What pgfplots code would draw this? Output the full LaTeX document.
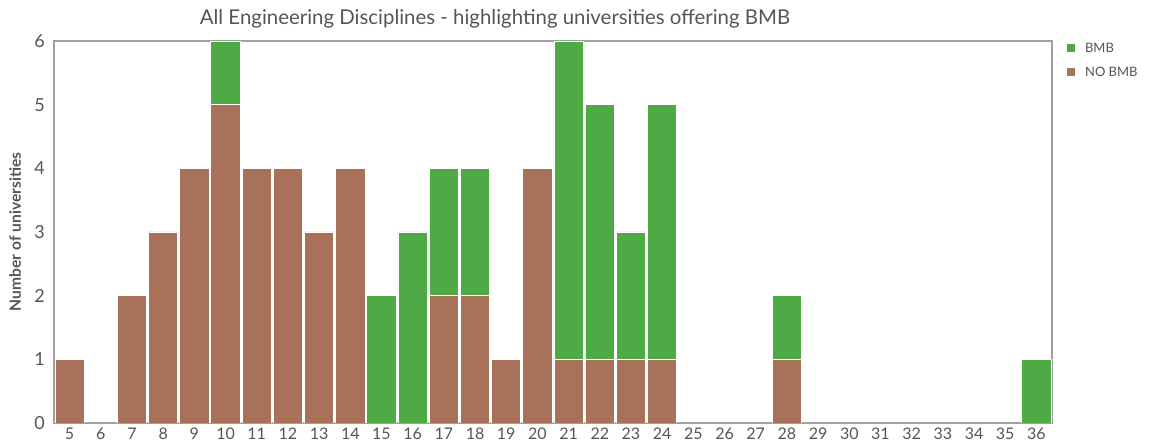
\documentclass[border=0pt]{standalone}
\usepackage{pgfplots}
\pgfplotsset{compat=1.18}
\usepackage{fontspec}
\setmainfont{Lato}
\definecolor{bmb}{HTML}{4DAA45}
\definecolor{nobmb}{HTML}{A8715A}
\definecolor{axisgray}{HTML}{A0A0A0}
\definecolor{txtgray}{HTML}{555555}
\begin{document}
\begin{tikzpicture}
\path[use as bounding box] (0,0) rectangle (576.5pt,224pt);
\begin{axis}[
  at={(27pt,12.5pt)}, anchor=south west,
  scale only axis, width=499pt, height=191pt,
  ybar stacked, bar width=0.94,
  xmin=4.5, xmax=36.5, ymin=0, ymax=6,
  xtick={5,...,36}, ytick={0,...,6},
  major tick length=0pt,
  axis line style={draw=axisgray, line width=0.6pt},
  xticklabel style={font=\fontsize{8}{9}\selectfont, text=txtgray, yshift=1pt},
  yticklabel style={font=\fontsize{9}{10}\selectfont, text=txtgray, xshift=-1pt},
  /pgf/number format/assume math mode=true,
  ylabel={\bfseries Number of universities},
  ylabel style={font=\fontsize{7.8}{9}\selectfont, text=txtgray, at={(-13pt,0.5)}},
]
\addplot[fill=nobmb, draw=white, line width=0.4pt] coordinates {
(5,1) (6,0) (7,2) (8,3) (9,4) (10,5) (11,4) (12,4) (13,3) (14,4)
(15,0) (16,0) (17,2) (18,2) (19,1) (20,4) (21,1) (22,1) (23,1) (24,1)
(25,0) (26,0) (27,0) (28,1) (29,0) (30,0) (31,0) (32,0) (33,0) (34,0) (35,0) (36,0)};
\addplot[fill=bmb, draw=white, line width=0.4pt] coordinates {
(5,0) (6,0) (7,0) (8,0) (9,0) (10,1) (11,0) (12,0) (13,0) (14,0)
(15,2) (16,3) (17,2) (18,2) (19,0) (20,0) (21,5) (22,4) (23,2) (24,4)
(25,0) (26,0) (27,0) (28,1) (29,0) (30,0) (31,0) (32,0) (33,0) (34,0) (35,0) (36,1)};
\end{axis}
\node[font=\fontsize{10.2}{12}\selectfont, text=txtgray] at (247.5pt,214.5pt) {All Engineering Disciplines - highlighting universities offering BMB};
\fill[bmb!80!gray] (533.5pt,198pt) rectangle (537.5pt,202pt);
\node[anchor=west, font=\fontsize{6.5}{8}\selectfont, text=txtgray] at (539pt,200pt) {BMB};
\fill[nobmb!80!gray] (533.5pt,186pt) rectangle (537.5pt,190pt);
\node[anchor=west, font=\fontsize{6.5}{8}\selectfont, text=txtgray] at (539pt,188pt) {NO BMB};
\end{tikzpicture}
\end{document}
